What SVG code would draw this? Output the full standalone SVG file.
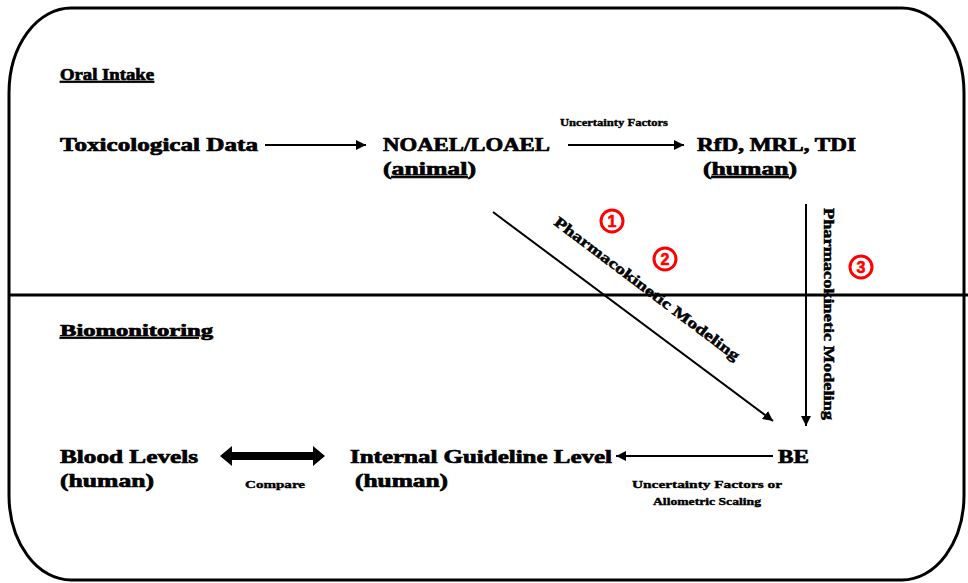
<svg xmlns="http://www.w3.org/2000/svg" width="968" height="583" viewBox="0 0 968 583">
  <style>
    .t { font-family: "Liberation Serif", "Times New Roman", serif; font-weight: bold; fill: #000; stroke: #000; stroke-width: 0.7; }
    .big { font-size: 19px; }
    .head { font-size: 17px; text-decoration: underline; }
    .small { font-size: 11px; stroke-width: 0.4; }
    .rot { font-size: 15px; stroke-width: 0.5; }
    .line { stroke: #000; stroke-width: 2; fill: none; }
    .num circle { fill: none; stroke: #f00; stroke-width: 3; }
    .num text { font-family: "Liberation Sans", Arial, sans-serif; font-weight: bold; font-size: 16px; fill: #f00; stroke: #f00; stroke-width: 0.6; text-anchor: middle; }
  </style>
  <defs>
    <marker id="arr" viewBox="0 0 10 10" refX="10" refY="5" markerWidth="5" markerHeight="5" orient="auto" markerUnits="strokeWidth">
      <path d="M0,0 L10,5 L0,10 Z" fill="#000"/>
    </marker>
  </defs>

  <rect width="968" height="583" fill="#fff"/>

  <!-- outer frame and section divider -->
  <rect x="9" y="8" width="955" height="572" rx="62" ry="85" fill="none" stroke="#000" stroke-width="3"/>
  <line x1="9" y1="295" x2="968" y2="295" stroke="#000" stroke-width="3"/>

  <!-- section headings -->
  <text class="t head" x="60" y="80" textLength="94" lengthAdjust="spacingAndGlyphs">Oral Intake</text>
  <text class="t head" x="60" y="336" textLength="153" lengthAdjust="spacingAndGlyphs">Biomonitoring</text>

  <!-- nodes -->
  <g id="tox">
    <text class="t big" x="60" y="151" textLength="198" lengthAdjust="spacingAndGlyphs">Toxicological  Data</text>
  </g>
  <g id="noael">
    <text class="t big" x="383" y="151" textLength="167" lengthAdjust="spacingAndGlyphs">NOAEL/LOAEL</text>
    <text class="t big" x="383" y="175" textLength="93" lengthAdjust="spacingAndGlyphs">(<tspan text-decoration="underline">animal</tspan>)</text>
  </g>
  <g id="rfd">
    <text class="t big" x="697" y="151" textLength="159" lengthAdjust="spacingAndGlyphs">RfD, MRL, TDI</text>
    <text class="t big" x="703" y="175" textLength="94" lengthAdjust="spacingAndGlyphs">(<tspan text-decoration="underline">human</tspan>)</text>
  </g>
  <g id="blood">
    <text class="t big" x="60" y="463" textLength="138" lengthAdjust="spacingAndGlyphs">Blood Levels</text>
    <text class="t big" x="60" y="487" textLength="94" lengthAdjust="spacingAndGlyphs">(human)</text>
  </g>
  <g id="igl">
    <text class="t big" x="350" y="463" textLength="262" lengthAdjust="spacingAndGlyphs">Internal Guideline Level</text>
    <text class="t big" x="355" y="487" textLength="93" lengthAdjust="spacingAndGlyphs">(human)</text>
  </g>
  <g id="be">
    <text class="t big" x="778" y="463" textLength="31" lengthAdjust="spacingAndGlyphs">BE</text>
  </g>

  <!-- connectors -->
  <g id="connectors">
    <line class="line" x1="265" y1="145" x2="366" y2="145" marker-end="url(#arr)"/>
    <line class="line" x1="568" y1="145" x2="684" y2="145" marker-end="url(#arr)"/>
    <text class="t small" x="560" y="126" textLength="108" lengthAdjust="spacingAndGlyphs">Uncertainty Factors</text>

    <line class="line" x1="493" y1="212" x2="773" y2="421" marker-end="url(#arr)"/>
    <text class="t rot" transform="translate(553,224) rotate(37)" textLength="228" lengthAdjust="spacingAndGlyphs">Pharmacokinetic Modeling</text>

    <line class="line" x1="806" y1="204" x2="806" y2="426" marker-end="url(#arr)"/>
    <text class="t rot" transform="translate(824,208) rotate(90)" textLength="212" lengthAdjust="spacingAndGlyphs">Pharmacokinetic Modeling</text>

    <line class="line" x1="773" y1="456" x2="616" y2="456" marker-end="url(#arr)"/>
    <text class="t small" x="707" y="488" text-anchor="middle" textLength="150" lengthAdjust="spacingAndGlyphs">Uncertainty Factors or</text>
    <text class="t small" x="707" y="505" text-anchor="middle" textLength="108" lengthAdjust="spacingAndGlyphs">Allometric Scaling</text>

    <!-- thick two-way compare arrow -->
    <path d="M220,456 L232,446 L232,452 L313,452 L313,446 L325,456 L313,466 L313,460 L232,460 L232,466 Z" fill="#000"/>
    <text class="t small" x="275" y="488" text-anchor="middle" textLength="60" lengthAdjust="spacingAndGlyphs">Compare</text>
  </g>

  <!-- numbered markers -->
  <g class="num" id="n1"><circle cx="612" cy="221" r="11"/><text x="612" y="227">1</text></g>
  <g class="num" id="n2"><circle cx="665" cy="259" r="11"/><text x="665" y="265">2</text></g>
  <g class="num" id="n3"><circle cx="861" cy="267" r="11"/><text x="861" y="273">3</text></g>
</svg>
